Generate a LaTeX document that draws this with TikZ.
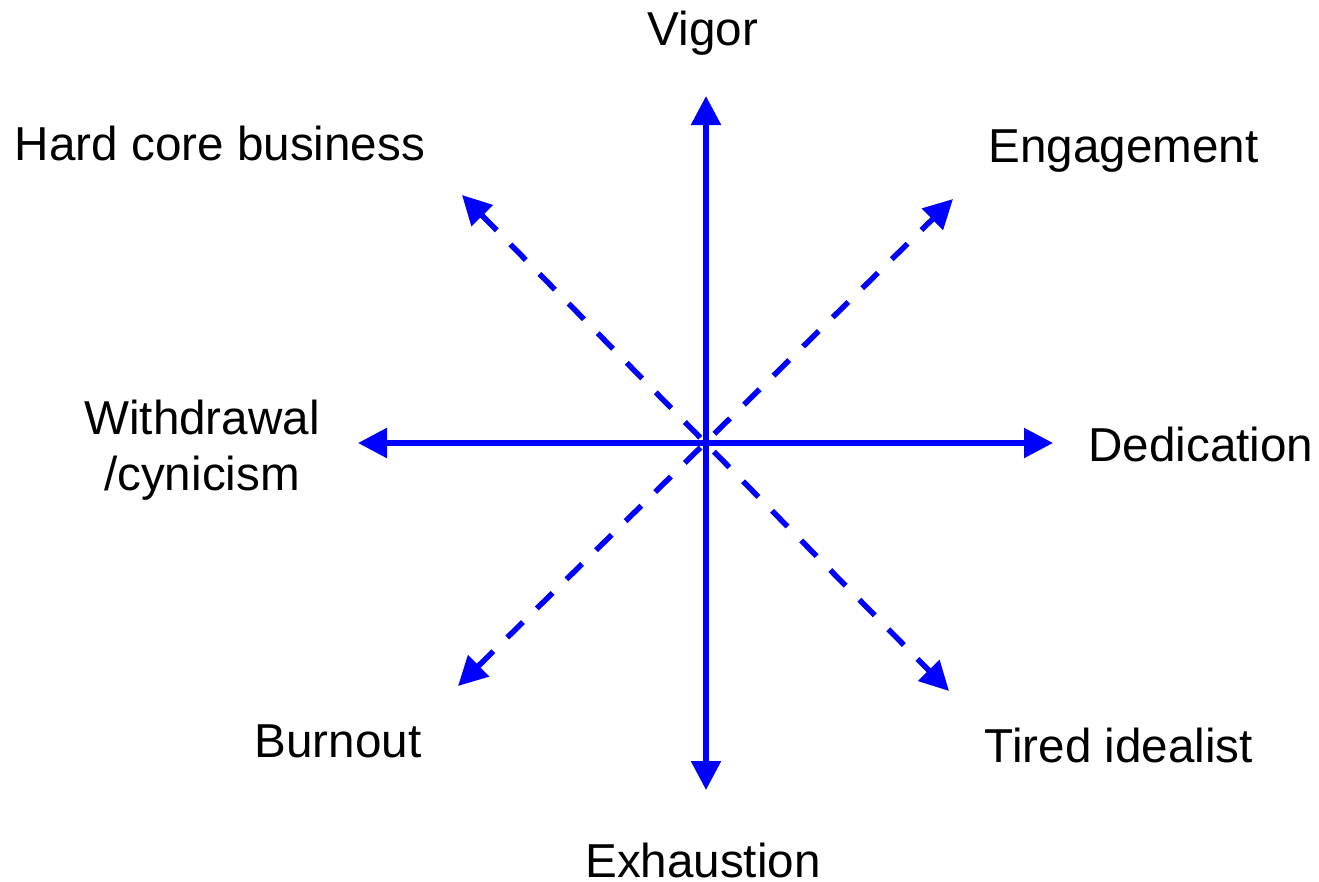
\documentclass[tikz,border=0pt]{standalone}
\usepackage{fontspec}
\setmainfont{Liberation Sans}
\usetikzlibrary{arrows.meta}
\begin{document}
\begin{tikzpicture}[x=1pt,y=-1pt,
  axisline/.style={draw=blue, line width=5.5pt,
    {Triangle[length=29pt,width=29pt]}-{Triangle[length=29pt,width=29pt]}},
  diagline/.style={axisline, dash pattern=on 22pt off 19.5pt},
  lbl/.style={font=\fontsize{47.6}{56}\selectfont, inner sep=0pt, text=black}]
\useasboundingbox (0,0) rectangle (1319,881);
% end points
\coordinate (vtop) at (706,96);
\coordinate (vbot) at (706,790);
\coordinate (hleft) at (358,443);
\coordinate (hright) at (1053,443);
\coordinate (ul) at (462,195);
\coordinate (lr) at (949,691);
\coordinate (ur) at (953,199);
\coordinate (ll) at (458,686);
% axes
\draw[axisline] (vtop) -- (vbot);
\draw[axisline] (hleft) -- (hright);
\draw[diagline] (ul) -- (lr);
\draw[diagline] (ll) -- (ur);
% labels
\node[lbl, anchor=base] (vigor) at (703,45) {Vigor};
\node[lbl, anchor=base] (hard) at (220,160) {Hard core business};
\node[lbl, anchor=base] (eng) at (1123.5,162) {Engagement};
\node[lbl, anchor=north, align=center] (withd) at (202,399.5) {Withdrawal\\/cynicism};
\node[lbl, anchor=base] (ded) at (1201,461) {Dedication};
\node[lbl, anchor=base] (burn) at (338,757) {Burnout};
\node[lbl, anchor=base] (tired) at (1119,762) {Tired idealist};
\node[lbl, anchor=base] (exh) at (703,877) {Exhaustion};
\end{tikzpicture}
\end{document}
